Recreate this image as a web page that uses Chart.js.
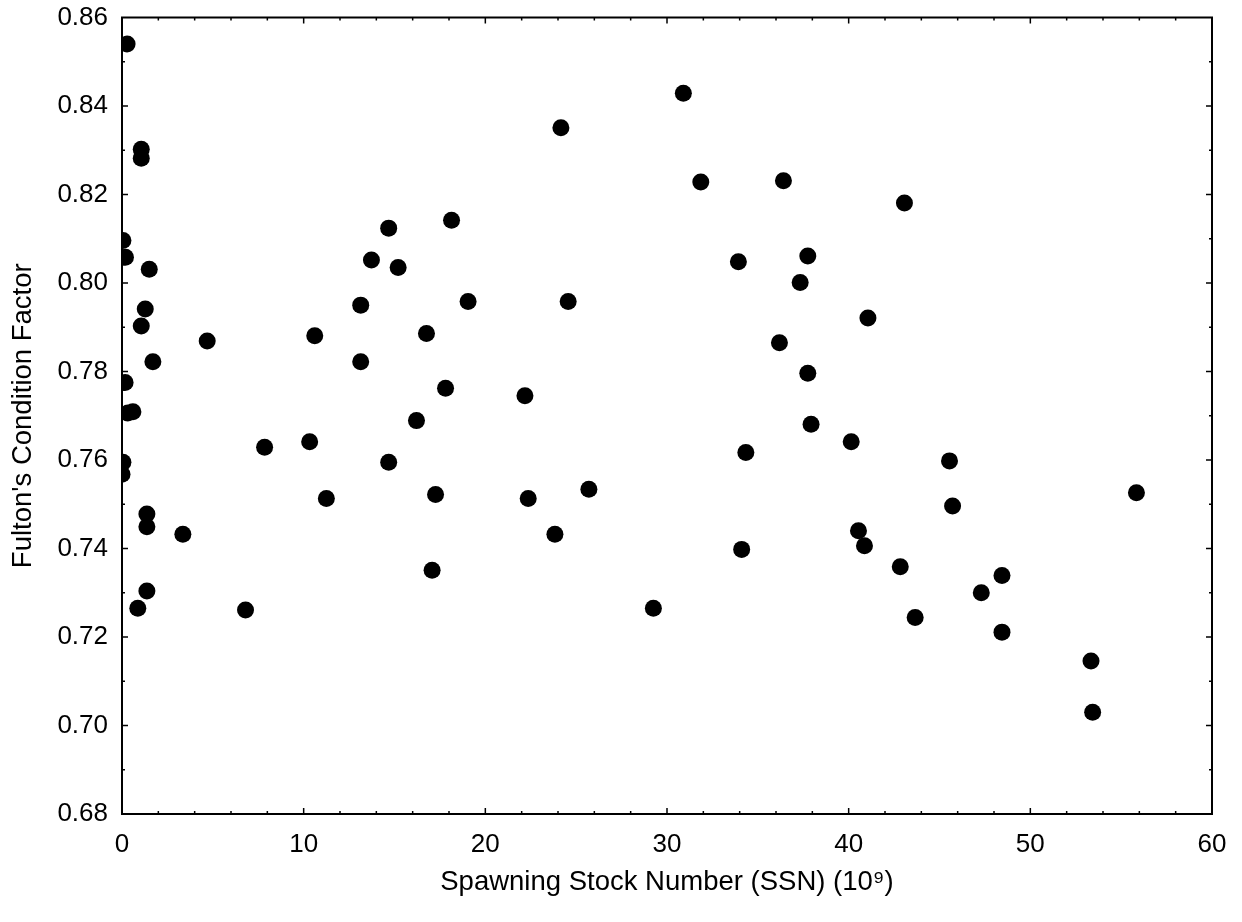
<!DOCTYPE html>
<html>
<head>
<meta charset="utf-8">
<script src="https://cdn.jsdelivr.net/npm/chart.js@4.4.1/dist/chart.umd.min.js"></script>
<style>
    html, body { margin: 0; padding: 0; background: #fff; }
    #grafico { display: block; }
</style>
</head>
<body>
<canvas id="grafico" width="1242" height="922"></canvas>
<script>
    // SSN (10^9) e fator de condição de Fulton
    const ssn = [
        0.28, 1.06, 1.06, 0.05, 0.19, 1.50, 1.28, 1.06, 1.70, 4.69,
        0.17, 0.32, 0.60, 0.05, 0.00, 1.37, 1.37, 3.35, 1.37, 0.87,
        6.80, 7.85, 10.33, 10.61, 11.25, 13.14, 13.73, 14.68, 15.20, 13.14,
        14.68, 16.21, 16.76, 17.81, 18.14, 19.05, 17.26, 17.07, 22.18, 22.36,
        23.83, 24.16, 24.56, 25.70, 29.25, 30.90, 31.86, 33.93, 34.11, 34.34,
        36.19, 36.41, 37.33, 37.75, 37.75, 37.93, 40.14, 40.54, 40.87, 41.06,
        42.84, 43.07, 43.66, 45.55, 45.72, 47.30, 48.44, 48.44, 53.34, 53.43,
        55.84
    ];
    const condicao = [
        0.8540, 0.8302, 0.8282, 0.8096, 0.8058, 0.8031, 0.7941, 0.7903, 0.7822, 0.7869,
        0.7775, 0.7706, 0.7709, 0.7595, 0.7568, 0.7478, 0.7449, 0.7432, 0.7304, 0.7265,
        0.7261, 0.7629, 0.7641, 0.7881, 0.7513, 0.7950, 0.8052, 0.8124, 0.8035, 0.7822,
        0.7595, 0.7689, 0.7886, 0.7762, 0.8142, 0.7958, 0.7522, 0.7351, 0.7745, 0.7513,
        0.7432, 0.8351, 0.7958, 0.7534, 0.7265, 0.8429, 0.8228, 0.8048, 0.7398, 0.7617,
        0.7865, 0.8231, 0.8001, 0.8061, 0.7796, 0.7681, 0.7641, 0.7440, 0.7406, 0.7921,
        0.7359, 0.8181, 0.7244, 0.7598, 0.7496, 0.7300, 0.7339, 0.7211, 0.7146, 0.7030,
        0.7526
    ];
    const xTicks = [0, 10, 20, 30, 40, 50, 60];
    const yTicks = [0.68, 0.70, 0.72, 0.74, 0.76, 0.78, 0.80, 0.82, 0.84, 0.86];
    const xDivisoes = 5;   // marcas menores por intervalo
    const yDivisoes = 2;

    const familia = '"Liberation Sans", Arial, sans-serif';
    const fonteTicks = { family: familia, size: 26 };
    const fonteTitulo = { family: familia, size: 27.5 };

    // moldura e marcas voltadas para dentro nos quatro lados
    const molduraComMarcas = {
        id: 'molduraComMarcas',
        afterDatasetsDraw(chart) {
            const { ctx, chartArea: a, scales: { x, y } } = chart;
            ctx.save();
            ctx.strokeStyle = '#000';
            ctx.lineWidth = 1.5;
            ctx.beginPath();
            for (let i = 0; i < xTicks.length - 1; i++) {
                for (let k = 0; k < xDivisoes; k++) {
                    const v = xTicks[i] + (xTicks[i + 1] - xTicks[i]) * k / xDivisoes;
                    const px = x.getPixelForValue(v);
                    const len = k === 0 ? 6 : 3;
                    ctx.moveTo(px, a.bottom); ctx.lineTo(px, a.bottom - len);
                    ctx.moveTo(px, a.top); ctx.lineTo(px, a.top + len);
                }
            }
            for (let i = 0; i < yTicks.length - 1; i++) {
                for (let k = 0; k < yDivisoes; k++) {
                    const v = yTicks[i] + (yTicks[i + 1] - yTicks[i]) * k / yDivisoes;
                    const py = y.getPixelForValue(v);
                    const len = k === 0 ? 6 : 3;
                    ctx.moveTo(a.left, py); ctx.lineTo(a.left + len, py);
                    ctx.moveTo(a.right, py); ctx.lineTo(a.right - len, py);
                }
            }
            ctx.stroke();
            ctx.lineWidth = 2;
            ctx.strokeRect(a.left, a.top, a.right - a.left, a.bottom - a.top);
            ctx.restore();
        }
    };

    new Chart(document.getElementById('grafico'), {
        type: 'scatter',
        data: {
            datasets: [{
                data: ssn.map((v, i) => ({ x: v, y: condicao[i] })),
                backgroundColor: '#000',
                borderColor: '#000',
                borderWidth: 0,
                pointRadius: 8.5,
                pointHoverRadius: 8.5,
                clip: 0,
            }],
        },
        options: {
            responsive: false,
            devicePixelRatio: 1,
            animation: false,
            layout: { padding: { top: 17.5, right: 30, left: 0, bottom: 0 } },
            plugins: { legend: { display: false }, tooltip: { enabled: false } },
            scales: {
                x: {
                    type: 'linear',
                    min: xTicks[0],
                    max: xTicks[xTicks.length - 1],
                    afterBuildTicks: (s) => { s.ticks = xTicks.map(v => ({ value: v })); },
                    afterFit: (s) => { s.height = 108; },
                    grid: { display: false, drawTicks: false },
                    border: { display: false },
                    ticks: { color: '#000', font: fonteTicks, padding: 15, maxRotation: 0 },
                    title: {
                        display: true,
                        text: 'Spawning Stock Number (SSN) (10⁹)',
                        color: '#000',
                        font: fonteTitulo,
                        padding: { top: 0, bottom: 23.5 },
                    },
                },
                y: {
                    type: 'linear',
                    min: yTicks[0],
                    max: yTicks[yTicks.length - 1],
                    afterBuildTicks: (s) => { s.ticks = yTicks.map(v => ({ value: v })); },
                    afterFit: (s) => { s.width = 122; s.paddingTop = 0; s.paddingBottom = 0; },
                    grid: { display: false, drawTicks: false },
                    border: { display: false },
                    ticks: { color: '#000', font: fonteTicks, padding: 14, callback: (v) => Number(v).toFixed(2) },
                    title: {
                        display: true,
                        text: "Fulton's Condition Factor",
                        color: '#000',
                        font: fonteTitulo,
                        padding: { top: 6.5, bottom: 0 },
                    },
                },
            },
        },
        plugins: [molduraComMarcas],
    });
</script>
</body>
</html>
